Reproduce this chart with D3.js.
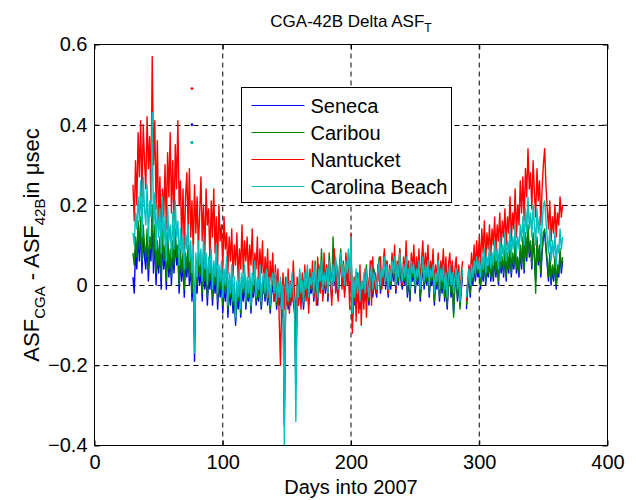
<!DOCTYPE html>
<html>
<head>
<meta charset="utf-8">
<script src="https://cdn.jsdelivr.net/npm/d3@7"></script>
<style>
    body { margin: 0; background: #fff; }
    text { font-family: Arial, "Liberation Sans", Helvetica, sans-serif; fill: #000; }
</style>
</head>
<body>
<div id="chart"></div>
<script>

// DATA
// first day of year in every series, one sample per day after it
const firstDay = 30;

// CGA - 42B difference, hundredths of a usec (null = no data)
const seneca = [
    2, -2, 9, 4, 13, 6, 15, 3, 12, 7,
    4, 11, 1, 9, 6, 17, 3, 12, 0, 8,
    3, 10, -1, 12, 4, 8, -1, 11, 2, 7,
    0, 9, 3, 12, 5, 8, -2, 7, 1, 6,
    -3, 6, 2, 8, 0, 5, -4, 4, -19, 3,
    -2, 5, 0, 4, -4, 6, -1, 3, -5, 2,
    -1, 4, -5, 2, -2, 5, -6, 1, -3, 2,
    -7, 0, -4, 3, -8, -1, -5, 1, -7, -2,
    -10, -3, -6, 0, -8, -1, -4, 1, -6, -2,
    -4, 0, -7, -1, -3, 2, -5, -2, -4, 1,
    -6, -2, 0, -4, 1, -5, -1, -7, -2, 0,
    -4, 0, -6, -2, -5, -1, -8, -2, -35, -5,
    -1, -6, -2, -5, 0, -4, -7, -25, -2, -5,
    1, -4, -1, -6, 0, -3, 2, -5, -1, -2,
    1, -4, 4, -2, -5, 3, -1, 6, -3, 2,
    -2, 3, -4, 5, 1, -3, 8, 0, 4, -1,
    -3, 3, 7, 0, 4, -2, 5, 1, 6, -1,
    9, -9, 0, -5, 2, -4, 1, -6, -1, -3,
    1, -4, 3, -2, -5, 2, 4, -3, 2, -1,
    -3, 3, 5, -2, 2, 0, 6, -1, 4, -3,
    2, -1, 5, 1, 4, -2, 3, 0, 7, 1,
    -1, 3, 0, 5, -3, 2, -4, 4, 1, 3,
    -2, 2, 0, 4, -4, 1, 5, -1, 3, 0,
    4, -3, 2, 0, 3, -5, 1, -1, 4, -4,
    2, -2, 3, -4, 1, -6, 0, 3, -3, 1,
    -7, 0, 2, -4, 1, -5, -1, 2, null, null,
    -6, -1, 2, -3, 3, 0, 4, 1, 5, 2,
    3, -1, 5, 1, 6, 0, 4, 2, 7, 1,
    5, 1, 7, 2, 6, 0, 8, 3, 6, 2,
    8, 1, 7, 3, 9, 2, 7, 4, 10, 3,
    6, 2, 9, 4, 11, 3, 12, 6, 14, 7,
    10, 4, 12, 7, 1, 11, 5, 9, 2, 8,
    12, 13, 9, 5, 1, 7, 0, 4, 1, 6,
    -1, 4, 2, 8, 3, 6
];

const caribou = [
    8, 5, 12, 7, 16, 9, 17, 6, 15, 10,
    7, 14, 4, 12, 9, 20, 6, 15, 3, 11,
    5, 12, 2, 14, 6, 10, 1, 13, 4, 9,
    2, 11, 5, 14, 7, 10, 0, 9, 3, 8,
    -1, 8, 4, 10, 2, 7, -2, 6, -14, 5,
    0, 7, 2, 6, -2, 8, 1, 5, -3, 4,
    1, 6, -3, 4, 0, 7, -4, 3, -1, 4,
    -5, 2, -2, 5, -6, 1, -3, 3, -5, 0,
    -9, -1, -4, 2, -7, 1, -2, 3, -5, 0,
    -3, 2, -6, 1, -2, 4, -4, 0, -3, 3,
    -5, 0, 2, -3, 3, -4, 1, -6, 0, 2,
    -3, 2, -5, 0, -4, 1, -7, -1, -30, -4,
    1, -5, 0, -4, 2, -3, -6, -20, -1, -4,
    3, -3, 0, -5, 2, -2, 4, -4, 1, -1,
    2, -3, 6, -1, -4, 5, 0, 9, -2, 4,
    -1, 5, -3, 8, 3, -2, 12, 2, 6, 1,
    -2, 5, 9, 1, 6, -1, 7, 2, 8, 0,
    10, -8, 1, -4, 3, -3, 2, -5, 0, -2,
    2, -3, 5, -1, -4, 3, 6, -2, 4, 0,
    -2, 4, 7, -1, 3, 1, 8, 0, 6, -2,
    3, 0, 7, 2, 5, -1, 4, 1, 9, 2,
    0, 4, 1, 6, -2, 3, -3, 5, 2, 4,
    -1, 3, 1, 5, -3, 2, 6, 0, 4, 1,
    5, -2, 3, 1, 4, -4, 2, 0, 5, -3,
    3, -1, 4, -3, 2, -5, 1, 4, -2, 2,
    -8, 1, 3, -3, 2, -6, 0, 3, null, null,
    -5, 0, 3, -2, 4, 1, 5, 2, 6, 3,
    4, 0, 6, 2, 7, 1, 5, 3, 8, 2,
    6, 2, 8, 3, 7, 1, 9, 4, 7, 3,
    9, 2, 8, 4, 10, 3, 8, 5, 11, 4,
    7, 3, 10, 5, 12, 4, 13, 7, 15, 8,
    11, 5, 13, 8, -2, 12, 6, 10, 3, 9,
    13, 14, 10, 6, 2, 8, 1, 5, 2, 7,
    0, 5, 3, 9, 4, 7
];

const nantucket = [
    25, 16, 31, 20, 38, 27, 41, 22, 40, 31,
    24, 42, 29, 37, 21, 57, 30, 41, 19, 36,
    15, 27, 12, 24, 17, 30, 14, 33, 22, 38,
    18, 31, 16, 35, 24, 41, 20, 26, 11, 24,
    9, 22, 28, 14, 29, 12, 21, 8, 25, 13,
    22, 9, 18, 27, 11, 20, 7, 24, 15, 19,
    6, 21, 12, 24, 8, 17, 5, 20, 11, 15,
    4, 17, 9, 13, 3, 12, 6, 14, 2, 10,
    5, 13, 1, 9, 4, 15, 3, 11, 6, 12,
    2, 10, 5, 14, 1, 8, 4, 12, 0, 9,
    3, 11, -2, 7, 2, 9, -3, 6, 1, 8,
    -4, 5, -1, 4, -8, -20, -3, 3, -6, 2,
    -5, 4, -7, 1, -4, 6, -2, -9, 2, -5,
    1, -6, 3, -3, 5, -4, 2, -7, 4, -1,
    6, -3, 3, -5, 7, 0, -2, 4, -4, 8,
    -1, 5, -3, 6, 1, -5, 4, 9, -2, 5,
    -4, 3, 7, -1, 5, -3, 8, 0, 4, -6,
    13, -12, -4, 2, -9, 3, -7, 5, -10, 1,
    -6, 4, -8, 2, -3, 6, -5, 7, -1, 3,
    -2, 5, 1, 7, -1, 4, 9, 2, 6, -2,
    5, 1, 8, 3, 10, -1, 6, 2, 9, 4,
    0, 7, 3, 11, 2, 6, -1, 8, 4, 10,
    1, 7, 3, 9, 0, 6, 11, 2, 8, 4,
    10, 1, 6, 3, 9, -1, 5, 2, 8, 0,
    6, 3, 9, 1, 7, -2, 5, 8, 2, 6,
    -1, 4, 7, 0, 5, -3, 3, 6, null, null,
    -4, 1, 5, 2, 8, 3, 10, 4, 11, 5,
    12, 5, 14, 8, 16, 6, 13, 9, 15, 7,
    14, 10, 17, 8, 15, 11, 18, 9, 16, 12,
    19, 10, 17, 13, 22, 11, 18, 14, 24, 12,
    20, 15, 26, 18, 27, 16, 29, 22, 34, 24,
    28, 19, 31, 23, 17, 29, 21, 26, 15, 24,
    30, 34, 25, 19, 14, 21, 11, 17, 13, 20,
    12, 18, 15, 22, 17, 20
];

const carolinaBeach = [
    13, 10, 18, 14, 22, 16, 26, 12, 27, 19,
    15, 25, 11, 21, 17, 43, 14, 23, 9, 20,
    12, 19, 8, 22, 10, 17, 6, 20, 11, 15,
    7, 18, 9, 21, 12, 16, 5, 14, 8, 12,
    4, 13, 9, 15, 6, 11, 3, 10, -17, 8,
    2, 11, 5, 9, 1, 12, 4, 8, 0, 7,
    3, 9, -1, 6, 2, 10, -2, 5, 1, 6,
    -3, 4, 0, 7, -5, 3, -2, 5, -4, 2,
    -8, 1, -3, 4, -6, 3, -1, 5, -4, 2,
    -2, 4, -5, 3, 0, 6, -3, 2, -1, 5,
    -4, 1, 3, -2, 4, -3, 2, -5, 1, 3,
    -2, 3, -4, 1, -3, 2, -6, 0, -40, -3,
    2, -4, 1, -3, 3, -2, -5, -34, 0, -3,
    4, -2, 1, -4, 3, -1, 5, -3, 2, 0,
    3, -2, 5, 0, -3, 4, 1, 6, -1, 3,
    0, 4, -2, 6, 2, -1, 5, 1, 7, 3,
    -1, 4, 8, 2, 5, 0, 6, 3, 9, 1,
    12, -7, 2, -3, 4, -2, 3, -4, 1, -1,
    3, -2, 4, 0, -3, 2, 5, -1, 3, 1,
    -1, 3, 6, 0, 4, 2, 7, 1, 5, -1,
    4, 1, 6, 3, 7, 0, 5, 2, 8, 3,
    1, 5, 2, 7, 0, 4, -1, 6, 3, 5,
    0, 4, 2, 6, -1, 3, 7, 1, 5, 2,
    6, 0, 4, 2, 5, -2, 3, 1, 6, -1,
    4, 1, 5, -1, 3, -3, 2, 5, 0, 3,
    -2, 2, 4, -1, 3, -4, 1, 4, null, null,
    -3, 1, 4, 0, 5, 2, 6, 3, 7, 4,
    6, 2, 8, 4, 9, 3, 7, 5, 10, 4,
    8, 5, 11, 6, 9, 4, 12, 6, 10, 7,
    13, 6, 11, 8, 14, 7, 12, 9, 15, 8,
    12, 9, 15, 11, 17, 10, 19, 13, 22, 14,
    18, 12, 20, 15, 10, 19, 13, 17, 9, 15,
    20, 21, 16, 12, 8, 14, 6, 11, 7, 13,
    5, 10, 8, 14, 9, 12
];

const seriesNames = ["Seneca", "Caribou", "Nantucket", "Carolina Beach"];
const seriesValues = [seneca, caribou, nantucket, carolinaBeach];
const seriesColors = ["#0000ff", "#008000", "#ff0000", "#00bfbf"];

// lone samples off the main trace, usec
const spotDay = 76;
const spotValues = [0.40, 0.355, 0.49, 0.355];

const xTicks = [0, 100, 200, 300, 400];
const yTicks = [-0.4, -0.2, 0, 0.2, 0.4, 0.6];


// SETTINGS
const settings = {
    width: 636,
    height: 500,
    left: 94.5,
    right: 607.5,
    top: 44.5,
    bottom: 445.5,
    tick: 5,
    font: 20,
};

const x = d3.scaleLinear().domain([0, 400]).range([settings.left, settings.right]);
const y = d3.scaleLinear().domain([-0.4, 0.6]).range([settings.bottom, settings.top]);

const svg = d3.select("#chart").append("svg")
    .attr("width", settings.width)
    .attr("height", settings.height);

svg.append("clipPath").attr("id", "plot-clip")
  .append("rect")
    .attr("x", settings.left)
    .attr("y", settings.top)
    .attr("width", settings.right - settings.left)
    .attr("height", settings.bottom - settings.top);

// grid
const gGrid = svg.append("g")
    .attr("stroke", "#000")
    .attr("stroke-width", 1)
    .attr("stroke-dasharray", "5,4");

gGrid.selectAll("line.vx")
    .data(xTicks.slice(1, -1))
    .join("line")
    .attr("class", "vx")
    .attr("x1", d => x(d)).attr("x2", d => x(d))
    .attr("y1", settings.top).attr("y2", settings.bottom);

gGrid.selectAll("line.hy")
    .data(yTicks.slice(1, -1))
    .join("line")
    .attr("class", "hy")
    .attr("x1", settings.left).attr("x2", settings.right)
    .attr("y1", d => Math.round(y(d)) + 0.5).attr("y2", d => Math.round(y(d)) + 0.5);

// traces
const line = d3.line()
    .defined(d => d[1] !== null)
    .x(d => x(d[0]))
    .y(d => y(d[1] / 100));

const gLines = svg.append("g")
    .attr("clip-path", "url(#plot-clip)")
    .attr("fill", "none")
    .attr("stroke-width", 1.4)
    .attr("stroke-linejoin", "round");

seriesValues.forEach((vals, i) => {
    gLines.append("path")
        .datum(vals.map((v, k) => [firstDay + k, v]))
        .attr("stroke", seriesColors[i])
        .attr("d", line);
});

svg.append("g")
  .selectAll("circle")
    .data(spotValues)
    .join("circle")
    .attr("cx", x(spotDay))
    .attr("cy", d => y(d))
    .attr("r", 1.4)
    .attr("fill", (d, i) => seriesColors[i]);

// axes, ticks pointing inwards on all four sides
const styleAxis = g => {
    g.select(".domain").remove();
    g.selectAll("line").attr("stroke", "#000");
    g.selectAll("text")
        .attr("font-family", "Arial, 'Liberation Sans', sans-serif")
        .attr("font-size", settings.font)
        .attr("fill", "#000");
};

svg.append("g")
    .attr("transform", `translate(0,${settings.bottom})`)
    .call(d3.axisBottom(x).tickValues(xTicks).tickSizeInner(-settings.tick).tickSizeOuter(0).tickPadding(9))
    .call(styleAxis);

svg.append("g")
    .attr("transform", `translate(0,${settings.top})`)
    .call(d3.axisTop(x).tickValues(xTicks).tickSizeInner(-settings.tick).tickSizeOuter(0).tickFormat(""))
    .call(styleAxis);

svg.append("g")
    .attr("transform", `translate(${settings.left},0)`)
    .call(d3.axisLeft(y).tickValues(yTicks).tickSizeInner(-settings.tick).tickSizeOuter(0).tickPadding(7).tickFormat(d3.format("")))
    .call(styleAxis);

svg.append("g")
    .attr("transform", `translate(${settings.right},0)`)
    .call(d3.axisRight(y).tickValues(yTicks).tickSizeInner(-settings.tick).tickSizeOuter(0).tickFormat(""))
    .call(styleAxis);

svg.append("rect")
    .attr("x", settings.left)
    .attr("y", settings.top)
    .attr("width", settings.right - settings.left)
    .attr("height", settings.bottom - settings.top)
    .attr("fill", "none")
    .attr("stroke", "#000");

// legend
const legend = svg.append("g").attr("transform", "translate(241.5,87.5)");

legend.append("rect")
    .attr("width", 210)
    .attr("height", 115)
    .attr("fill", "#fff")
    .attr("stroke", "#000");

const row = legend.selectAll("g")
    .data(seriesNames)
    .join("g")
    .attr("transform", (d, i) => `translate(0,${18 + i * 27})`);

row.append("line")
    .attr("x1", 10).attr("x2", 63)
    .attr("stroke", (d, i) => seriesColors[i]);

row.append("text")
    .attr("x", 69)
    .attr("dy", "0.35em")
    .attr("font-size", settings.font)
    .text(d => d);

// title
const title = svg.append("text")
    .attr("x", (settings.left + settings.right) / 2)
    .attr("y", 27)
    .attr("text-anchor", "middle")
    .attr("font-size", 17);
title.append("tspan").text("CGA-42B Delta ASF");
title.append("tspan").attr("dy", 5).attr("font-size", 12).text("T");

// axis labels
svg.append("text")
    .attr("x", (settings.left + settings.right) / 2)
    .attr("y", 494)
    .attr("text-anchor", "middle")
    .attr("font-size", 20)
    .text("Days into 2007");

const ylab = svg.append("text")
    .attr("transform", `translate(39,${(settings.top + settings.bottom) / 2}) rotate(-90)`)
    .attr("text-anchor", "middle")
    .attr("font-size", 22);
ylab.append("tspan").text("ASF");
ylab.append("tspan").attr("dy", 6).attr("font-size", 15).text("CGA");
ylab.append("tspan").attr("dy", -6).text(" - ASF");
ylab.append("tspan").attr("dy", 6).attr("font-size", 15).text("42B");
ylab.append("tspan").attr("dy", -6).text("in μsec");

</script>
</body>
</html>
